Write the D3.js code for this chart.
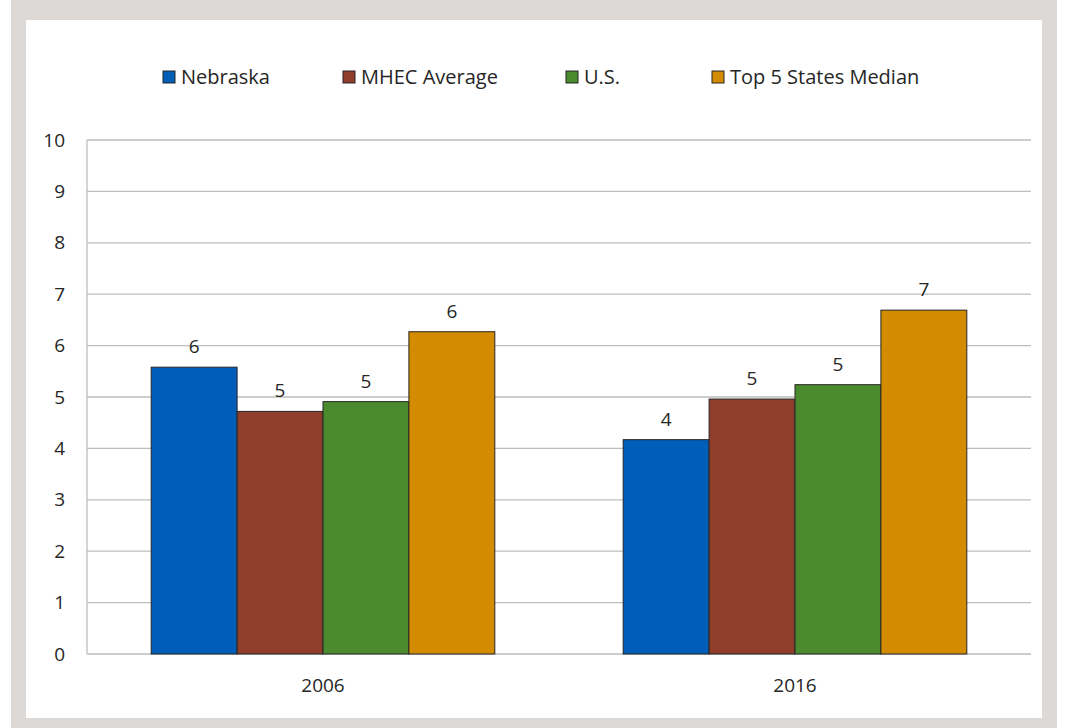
<!DOCTYPE html>
<html>
<head>
<meta charset="utf-8">
<script src="https://cdn.jsdelivr.net/npm/d3@7"></script>
<style>
  body { margin: 0; background: #fff; }
  svg { display: block; font-family: "Open Sans", sans-serif; }
</style>
</head>
<body>
<script>
const years = ["2006", "2016"];
const seriesNames = ["Nebraska", "MHEC Average", "U.S.", "Top 5 States Median"];
const nebraska = [5.58, 4.17];
const mhecAverage = [4.72, 4.96];
const us = [4.91, 5.24];
const top5Median = [6.27, 6.69];
const yTicks = [0, 1, 2, 3, 4, 5, 6, 7, 8, 9, 10];
const colors = ["#005eb8", "#8f3e2c", "#4b8b2d", "#d38b00"];

const seriesValues = [nebraska, mhecAverage, us, top5Median];

const width = 1065, height = 728;
const margin = { top: 140, right: 34, bottom: 74, left: 87 };

const svg = d3.select('body')
    .append('svg')
    .attr('width', width)
    .attr('height', height);

// gray frame
svg.append('rect')
    .attr('x', 11).attr('y', 0)
    .attr('width', 1046).attr('height', 728)
    .attr('fill', '#dcd9d6');
svg.append('rect')
    .attr('x', 26).attr('y', 20)
    .attr('width', 1016).attr('height', 698)
    .attr('fill', '#fff');

const x0 = d3.scaleBand()
    .domain(years)
    .range([margin.left, width - margin.right])
    .paddingInner(0.272)
    .paddingOuter(0.136);

const x1 = d3.scaleBand()
    .domain(seriesNames)
    .range([0, x0.bandwidth()]);

const y = d3.scaleLinear()
    .domain([0, 10])
    .range([height - margin.bottom, margin.top]);

// gridlines
svg.append('g')
    .selectAll('line')
    .data(yTicks)
    .enter()
    .append('line')
    .attr('x1', margin.left)
    .attr('x2', width - margin.right)
    .attr('y1', d => y(d))
    .attr('y2', d => y(d))
    .attr('stroke', '#bdbdbd')
    .attr('stroke-width', 1.3);

// left axis line
svg.append('line')
    .attr('x1', margin.left).attr('x2', margin.left)
    .attr('y1', y(10)).attr('y2', y(0))
    .attr('stroke', '#bdbdbd')
    .attr('stroke-width', 1.3);

// y tick labels
svg.append('g')
    .selectAll('text')
    .data(yTicks)
    .enter()
    .append('text')
    .attr('x', 65)
    .attr('y', d => y(d))
    .attr('dy', '0.35em')
    .attr('text-anchor', 'end')
    .attr('font-size', 19)
    .attr('fill', '#262626')
    .text(d => d);

// bars
const rows = [];
years.forEach((yr, i) => {
    seriesNames.forEach((s, j) => {
        rows.push({ year: yr, series: s, value: seriesValues[j][i], color: colors[j] });
    });
});

svg.append('g')
    .selectAll('rect')
    .data(rows)
    .enter()
    .append('rect')
    .attr('x', d => x0(d.year) + x1(d.series))
    .attr('y', d => y(d.value))
    .attr('width', x1.bandwidth())
    .attr('height', d => y(0) - y(d.value))
    .attr('fill', d => d.color)
    .attr('stroke', '#262626')
    .attr('stroke-width', 1);

// value labels
svg.append('g')
    .selectAll('text')
    .data(rows)
    .enter()
    .append('text')
    .attr('x', d => x0(d.year) + x1(d.series) + x1.bandwidth() / 2)
    .attr('y', d => y(d.value) - 14)
    .attr('text-anchor', 'middle')
    .attr('font-size', 19)
    .attr('fill', '#262626')
    .text(d => d3.format('.0f')(d.value));

// category labels
svg.append('g')
    .selectAll('text')
    .data(years)
    .enter()
    .append('text')
    .attr('x', d => x0(d) + x0.bandwidth() / 2)
    .attr('y', 692)
    .attr('text-anchor', 'middle')
    .attr('font-size', 19)
    .attr('fill', '#262626')
    .text(d => d);

// legend
const legendX = [163, 343, 566, 712];
const legend = svg.append('g')
    .selectAll('g')
    .data(seriesNames)
    .enter()
    .append('g')
    .attr('transform', (d, i) => 'translate(' + legendX[i] + ',77)');

legend.append('rect')
    .attr('x', 0).attr('y', -6)
    .attr('width', 12).attr('height', 12)
    .attr('fill', (d, i) => colors[i])
    .attr('stroke', '#262626')
    .attr('stroke-width', 1);

legend.append('text')
    .attr('x', 18)
    .attr('dy', '0.35em')
    .attr('font-size', 20)
    .attr('fill', '#262626')
    .text(d => d);
</script>
</body>
</html>
